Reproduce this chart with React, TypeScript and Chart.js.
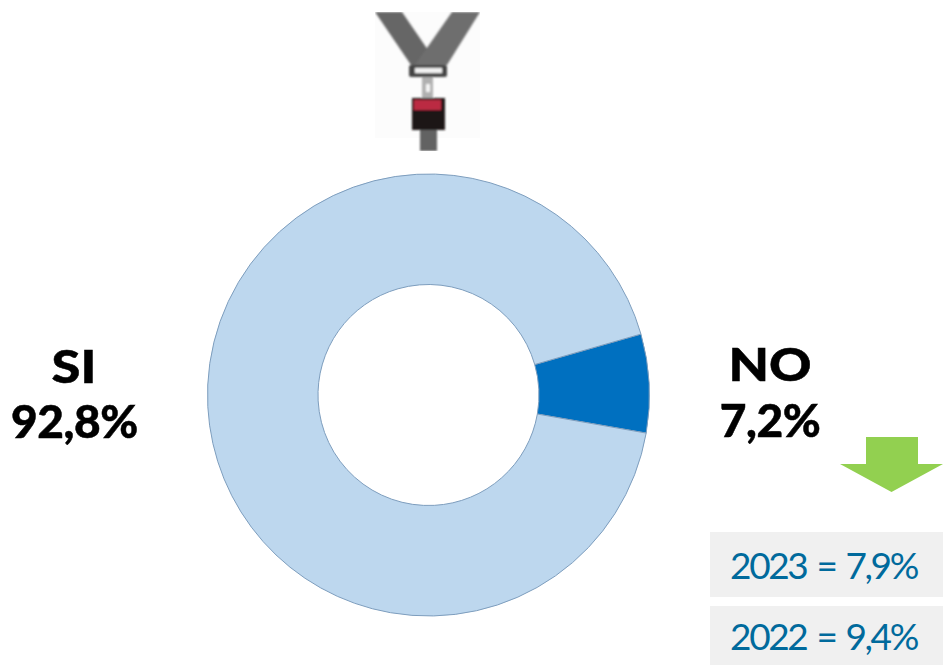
import React, { useEffect, useRef } from "react";
import { Chart, registerables } from "chart.js";

Chart.register(...registerables);

const categories = ["NO", "SI"];
const shares = [7.2, 92.8];
const shareLabels = ["7,2%", "92,8%"];
const history = ["2023 = 7,9%", "2022 = 9,4%"];
const sliceColors = ["#0070c0", "#bdd7ee"];

const FONT = "Lato, 'Open Sans', sans-serif";

const abs = (left: number, top: number, width: number, height: number): React.CSSProperties => ({
  position: "absolute",
  left,
  top,
  width,
  height,
});

function Belt() {
  return (
    <svg style={{ ...abs(375, 12, 105, 139), display: "block" }} viewBox="0 0 105 139">
      <defs>
        <filter id="soft" x="-10%" y="-10%" width="120%" height="120%">
          <feGaussianBlur stdDeviation="1" />
        </filter>
      </defs>
      <rect x="0" y="0" width="105" height="126" fill="#fcfcfc" />
      <g filter="url(#soft)">
        <polygon points="0,0 27,0 53,38 62,55 36,53" fill="#666666" />
        <polygon points="77,0 105,0 72,53 40,53" fill="#6e6e6e" />
        <rect x="34" y="53" width="38" height="12" rx="2" fill="#454545" />
        <rect x="40" y="56" width="27" height="5" fill="#f2f2f2" />
        <rect x="47" y="65" width="11" height="21" fill="#b0b0b0" />
        <rect x="51" y="72" width="4" height="8" fill="#f5f5f5" />
        <rect x="37" y="86" width="33" height="32" fill="#1c1214" />
        <rect x="39" y="88" width="27" height="10" fill="#bb2a42" />
        <rect x="45" y="118" width="17" height="21" fill="#626262" />
      </g>
    </svg>
  );
}

export default function App() {
  const ref = useRef<HTMLCanvasElement>(null);

  useEffect(() => {
    if (!ref.current) return;
    const chart = new Chart(ref.current, {
      type: "doughnut",
      data: {
        labels: categories,
        datasets: [
          {
            data: shares,
            backgroundColor: sliceColors,
            borderColor: "#7d9dbd",
            borderWidth: 1,
            borderAlign: "center",
          },
        ],
      },
      options: {
        responsive: false,
        animation: false,
        cutout: "50%",
        rotation: 74,
        layout: { padding: { left: 207, right: 293, top: 173, bottom: 48 } },
        plugins: { legend: { display: false }, tooltip: { enabled: false }, title: { display: false } },
      },
    });
    return () => chart.destroy();
  }, []);

  const big: React.CSSProperties = {
    position: "absolute",
    fontFamily: FONT,
    fontWeight: 900,
    fontSize: 46,
    lineHeight: "56px",
    color: "#000",
    textAlign: "center",
    whiteSpace: "nowrap",
    WebkitTextStroke: "0.5px #000",
  };
  const name: React.CSSProperties = { ...big, transform: "scaleX(1.14)" };
  const boxText: React.CSSProperties = {
    position: "absolute",
    fontFamily: FONT,
    fontSize: 37,
    letterSpacing: "-2.4px",
    wordSpacing: "3px",
    color: "#006a9c",
    background: "#f0f0f0",
    textAlign: "center",
    whiteSpace: "nowrap",
    paddingRight: 6,
    boxSizing: "border-box",
  };

  return (
    <div style={{ position: "fixed", left: 0, top: 0, width: 943, height: 665, background: "#fff", overflow: "hidden" }}>
      <canvas ref={ref} width={943} height={665} style={{ ...abs(0, 0, 943, 665), display: "block" }} />
      <Belt />
      <div style={{ ...name, left: 0, top: 338, width: 148 }}>{categories[1]}</div>
      <div style={{ ...big, left: 0, top: 393, width: 149, letterSpacing: "-0.4px" }}>{shareLabels[1]}</div>
      <div style={{ ...name, left: 700, top: 336, width: 140 }}>{categories[0]}</div>
      <div style={{ ...big, left: 700, top: 392, width: 140, letterSpacing: "-0.4px" }}>{shareLabels[0]}</div>
      <svg style={{ ...abs(840, 437, 103, 55), display: "block" }} viewBox="0 0 103 55">
        <polygon points="26,0 78,0 78,27 103,27 51.5,55 0,27 26,27" fill="#92d050" />
      </svg>
      <div style={{ ...boxText, ...abs(710, 532, 233, 65), lineHeight: "65px" }}>{history[0]}</div>
      <div style={{ ...boxText, ...abs(710, 606, 233, 59), lineHeight: "59px" }}>{history[1]}</div>
    </div>
  );
}
